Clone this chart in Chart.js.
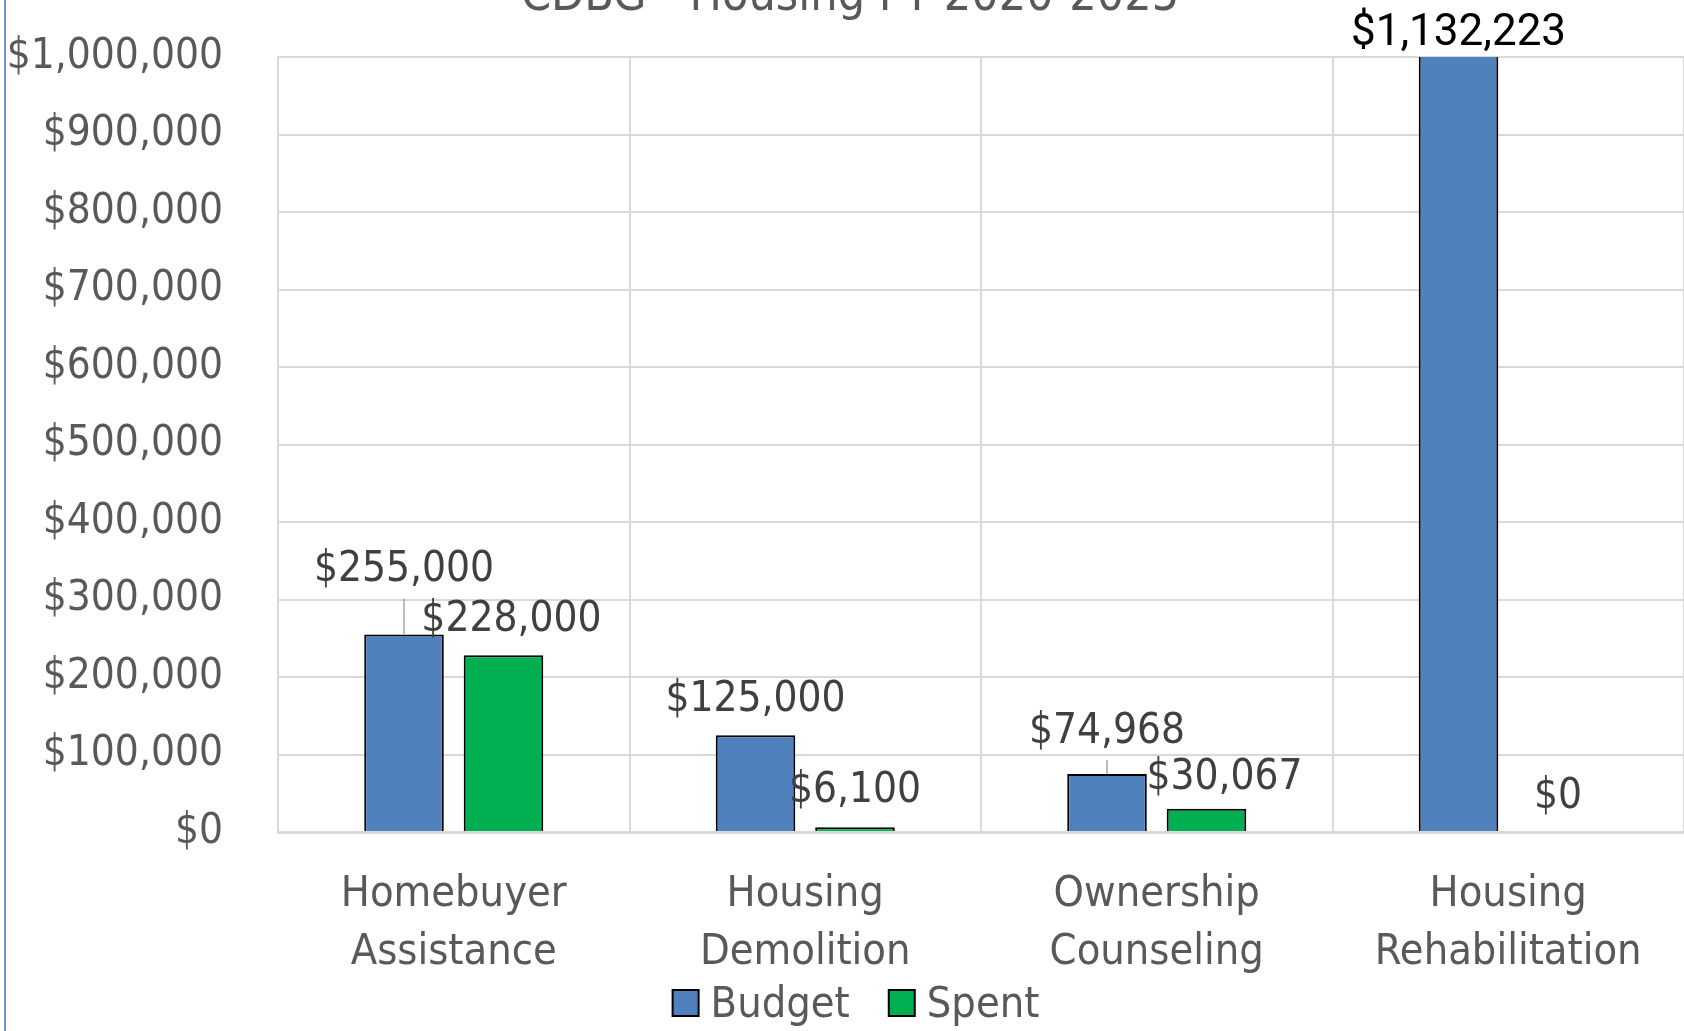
<!DOCTYPE html>
<html>
<head>
<meta charset="utf-8">
<title>CDBG - Housing FY 2020-2025</title>
<script src="https://cdn.jsdelivr.net/npm/chart.js@4.4.0/dist/chart.umd.min.js"></script>
<style>
    html, body { margin: 0; padding: 0; background: #fff; overflow: hidden; }
    #wrap { position: relative; width: 1684px; height: 1031px; }
    #edge { position: absolute; left: 4px; top: 0; width: 2px; height: 1031px; background: #7395cf; }
</style>
</head>
<body>
<div id="wrap">
    <canvas id="housingChart" width="1684" height="1031"></canvas>
    <div id="edge"></div>
</div>
<script>
// Ma'lumotlar
const categories = ['Homebuyer Assistance', 'Housing Demolition', 'Ownership Counseling', 'Housing Rehabilitation'];
const budget = [255000, 125000, 74968, 1132223];
const spent = [228000, 6100, 30067, 0];
const yTicks = [0, 100000, 200000, 300000, 400000, 500000, 600000, 700000, 800000, 900000, 1000000];

const narrow = "'DejaVu Sans Condensed', 'Liberation Sans Narrow', sans-serif";
const money = v => '$' + v.toLocaleString('en-US');

// Sarlavha (yuqorida qisman kesilgan)
const topTitle = {
    id: 'topTitle',
    afterDraw(chart) {
        const ctx = chart.ctx;
        ctx.save();
        ctx.font = '48px ' + narrow;
        ctx.fillStyle = '#595959';
        ctx.textAlign = 'center';
        ctx.textBaseline = 'alphabetic';
        ctx.fillText('CDBG - Housing FY 2020-2025', chart.width / 2 + 8, 10);
        ctx.restore();
    }
};

// Pastdagi legenda (qo'lda chiziladi)
const bottomLegend = {
    id: 'bottomLegend',
    afterDraw(chart, args, opts) {
        const ctx = chart.ctx;
        ctx.save();
        ctx.font = '43px ' + narrow;
        const box = 26, gap = 12, between = 39;
        const items = chart.data.datasets.map(ds => ({
            text: ds.label,
            color: ds.backgroundColor,
            w: box + gap + ctx.measureText(ds.label).width
        }));
        const total = items.reduce((s, it) => s + it.w, 0) + between * (items.length - 1);
        let x = chart.width / 2 + opts.shift - total / 2;
        const y = opts.y;
        items.forEach(it => {
            ctx.fillStyle = it.color;
            ctx.fillRect(x, y - box / 2, box, box);
            ctx.strokeStyle = '#000';
            ctx.lineWidth = 2;
            ctx.strokeRect(x, y - box / 2, box, box);
            ctx.fillStyle = '#595959';
            ctx.textAlign = 'left';
            ctx.textBaseline = 'middle';
            ctx.fillText(it.text, x + box + gap, y + 3);
            x += it.w + between;
        });
        ctx.restore();
    }
};

// Ustunlar ustidagi qiymatlar
const barLabels = {
    id: 'barLabels',
    afterDatasetsDraw(chart, args, opts) {
        const ctx = chart.ctx;
        const area = chart.chartArea;
        ctx.save();
        ctx.textAlign = 'center';
        ctx.textBaseline = 'middle';
        chart.data.datasets.forEach((ds, di) => {
            const meta = chart.getDatasetMeta(di);
            meta.data.forEach((bar, i) => {
                const v = ds.data[i];
                const clipped = bar.y < area.top;
                const top = clipped ? area.top : bar.y;
                const off = (opts.offsets[di] && opts.offsets[di][i]) || [0, -35];
                const x = bar.x + off[0];
                const y = top + off[1];
                if (opts.leaders.some(l => l[0] === di && l[1] === i)) {
                    ctx.strokeStyle = '#a6a6a6';
                    ctx.lineWidth = 1.5;
                    ctx.beginPath();
                    ctx.moveTo(bar.x, y + 28);
                    ctx.lineTo(bar.x, top);
                    ctx.stroke();
                }
                if (clipped) {
                    ctx.font = '44px Roboto, sans-serif';
                    ctx.fillStyle = '#000';
                } else {
                    ctx.font = '42px ' + narrow;
                    ctx.fillStyle = '#404040';
                }
                ctx.fillText(money(v), x, y);
            });
        });
        ctx.restore();
    }
};

const ctx = document.getElementById('housingChart').getContext('2d');
const housingChart = new Chart(ctx, {
    type: 'bar',
    data: {
        labels: categories.map(c => c.split(' ')),
        datasets: [{
            label: 'Budget',
            data: budget,
            backgroundColor: '#4f81bd',
            borderColor: '#000',
            borderWidth: 2,
            borderSkipped: 'bottom'
        }, {
            label: 'Spent',
            data: spent,
            backgroundColor: '#00b050',
            borderColor: '#000',
            borderWidth: 2,
            borderSkipped: 'bottom'
        }]
    },
    options: {
        responsive: false,
        animation: false,
        devicePixelRatio: 1,
        categoryPercentage: 0.566,
        barPercentage: 0.8,
        layout: {
            padding: { top: 57, right: 0, bottom: 53, left: 0 }
        },
        plugins: {
            title: { display: false },
            tooltip: { enabled: false },
            legend: { display: false },
            bottomLegend: { y: 1003, shift: 14 },
            barLabels: {
                offsets: [
                    [[0, -64], [0, -35], [0, -42], [0, -23]],
                    [[8, -35], [0, -36], [18, -31], [0, -35]]
                ],
                leaders: [[0, 0], [0, 2]]
            }
        },
        scales: {
            x: {
                grid: { color: '#d9d9d9', lineWidth: 2, drawTicks: false, offset: true },
                border: { color: '#d9d9d9', width: 3 },
                ticks: {
                    color: '#595959',
                    font: { family: narrow, size: 43, lineHeight: 1.35 },
                    padding: 34,
                    maxRotation: 0,
                    autoSkip: false
                },
                afterFit(scale) { scale.height = 146; }
            },
            y: {
                min: 0,
                max: 1000000,
                grid: { color: '#d9d9d9', lineWidth: 2, drawTicks: true, tickLength: 55, tickColor: 'rgba(0,0,0,0)' },
                border: { color: '#d9d9d9', width: 2 },
                afterBuildTicks(scale) { scale.ticks = yTicks.map(v => ({ value: v })); },
                ticks: {
                    color: '#595959',
                    font: { family: narrow, size: 42 },
                    padding: 0,
                    callback: v => money(v)
                },
                afterFit(scale) { scale.width = 278; }
            }
        }
    },
    plugins: [barLabels, topTitle, bottomLegend]
});
</script>
</body>
</html>
